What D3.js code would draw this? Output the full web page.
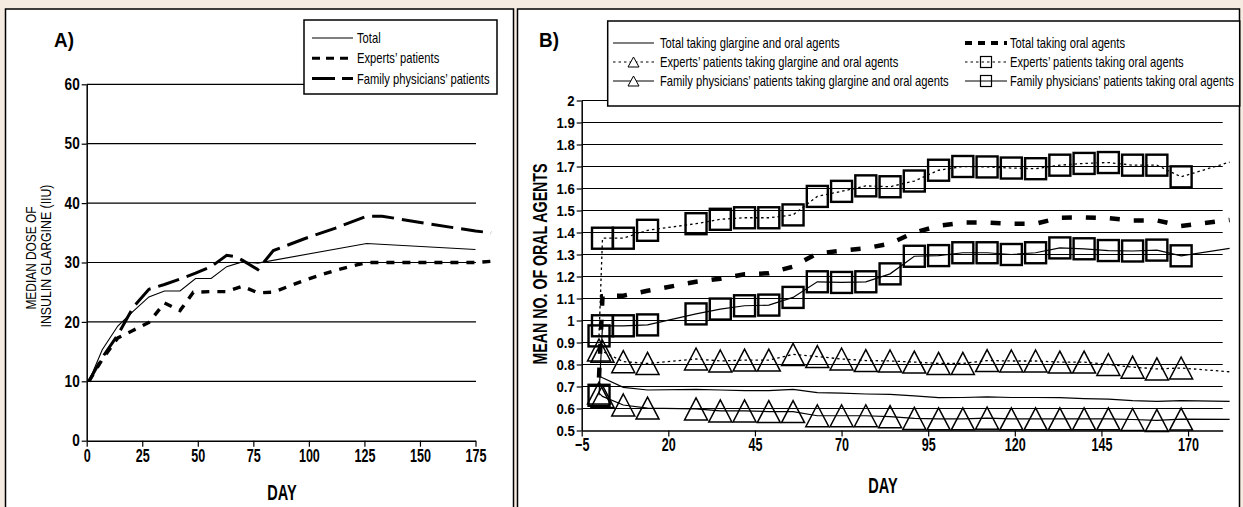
<!DOCTYPE html>
<html><head><meta charset="utf-8">
<script src="https://cdn.jsdelivr.net/npm/d3@7"></script>
<style>
html,body{margin:0;padding:0;background:#f6ebe1;}
svg{display:block;}
text{font-family:"Liberation Sans",Arial,sans-serif;fill:#000;}
</style></head><body>
<svg id="chart" width="1243" height="507"></svg>
<script>
// ---------- Panel A data (median dose of insulin glargine, IU) ----------
const xTicksA = [0,25,50,75,100,125,150,175];
const yTicksA = [0,10,20,30,40,50,60];
const daysTotalA   = [1,7,14,21,28,35,42,49,56,63,70,77,126,175];
const totalA       = [10,15.3,19.3,21.8,24.2,25.2,25.2,27.3,27.3,29.3,30.1,29.9,33.2,32.2];
const daysExpertsA = [1,7,14,21,28,35,42,48,56,63,70,77,84,98,112,126,175,182];
const expertsA     = [10,13.7,17.3,18.6,19.9,23.2,21.9,25,25.1,25.1,26,24.9,25,27,28.7,30,30,30.2];
const daysFamilyA  = [1,7,14,21,28,35,42,49,56,63,67,70,77,84,98,112,126,133,154,175,182];
const familyA      = [10,14,17.8,22.5,25.5,26.3,27.2,28.2,29.3,31.2,31,30.4,28.8,32,34,35.8,37.8,37.8,36.5,35.3,35];
const legendA = ["Total","Experts\u2019 patients","Family physicians\u2019 patients"];

// ---------- Panel B data (mean no. of oral agents) ----------
const xTicksB = [-5,20,45,70,95,120,145,170];
const yTicksB = [0.5,0.6,0.7,0.8,0.9,1,1.1,1.2,1.3,1.4,1.5,1.6,1.7,1.8,1.9,2];
const daysB = [0,1,7,14,28,35,42,49,56,63,70,77,84,91,98,105,112,119,126,133,140,147,154,161,168,182];
const totalGlargB   = [0.748,0.74,0.696,0.684,0.687,0.684,0.681,0.681,0.687,0.672,0.67,0.666,0.664,0.657,0.649,0.65,0.653,0.65,0.65,0.649,0.645,0.643,0.636,0.632,0.636,0.632];
const expertsGlargB = [0.866,0.86,0.813,0.805,0.825,0.816,0.82,0.82,0.846,0.836,0.825,0.818,0.816,0.811,0.805,0.805,0.818,0.816,0.816,0.811,0.811,0.80,0.788,0.78,0.784,0.767];
const familyGlargB  = [0.67,0.655,0.616,0.602,0.598,0.589,0.589,0.586,0.586,0.567,0.567,0.567,0.563,0.555,0.553,0.553,0.556,0.553,0.553,0.553,0.553,0.553,0.55,0.546,0.552,0.551];
const totalOralB    = [0.74,1.11,1.113,1.135,1.176,1.19,1.21,1.215,1.245,1.305,1.317,1.328,1.35,1.40,1.43,1.445,1.445,1.44,1.44,1.467,1.469,1.465,1.455,1.455,1.43,1.457];
const expertsOralB  = [0.93,1.374,1.374,1.41,1.44,1.46,1.467,1.467,1.48,1.564,1.587,1.612,1.608,1.634,1.683,1.70,1.698,1.693,1.69,1.706,1.714,1.718,1.706,1.706,1.653,1.72];
const familyOralB   = [0.66,0.976,0.976,0.98,1.03,1.052,1.067,1.07,1.105,1.176,1.173,1.176,1.212,1.292,1.295,1.308,1.308,1.30,1.308,1.33,1.326,1.318,1.316,1.32,1.294,1.328];
const legendB = ["Total taking glargine and oral agents","Experts\u2019 patients taking glargine and oral agents","Family physicians\u2019 patients taking glargine and oral agents","Total taking oral agents","Experts\u2019 patients taking oral agents","Family physicians\u2019 patients taking oral agents"];

const svg = d3.select("#chart");

// condensed text helper (horizontal squeeze to mimic a condensed face)
function txt(x,y,str,o){
  const sx=o.sx||1, rot=o.rot||0;
  return svg.append("text")
    .attr("transform",`translate(${x},${y})${rot?` rotate(${rot})`:""} scale(${sx},1)`)
    .attr("text-anchor",o.anchor||"start")
    .attr("font-size",o.size).attr("font-weight",o.bold?"bold":(o.weight||"normal"))
    .text(str);
}
function styleAxis(g,size,sx){
  g.selectAll("text").attr("font-family",'"Liberation Sans",Arial,sans-serif').attr("font-weight","bold")
    .attr("font-size",size).attr("fill","#000")
    .attr("x",function(){return (+d3.select(this).attr("x")||0)/sx;})
    .attr("transform",`scale(${sx},1)`);
  g.selectAll("line").attr("stroke","#000").attr("stroke-width",1.2);
  g.select(".domain").attr("stroke","#000").attr("stroke-width",1.5);
}
const tri = (w,h)=>`M0,${-h/2}L${w/2},${h/2}L${-w/2},${h/2}Z`;

// panels
svg.append("rect").attr("x",5.5).attr("y",9).attr("width",508).attr("height",520)
  .attr("fill","#fff").attr("stroke","#000").attr("stroke-width",1.5);
svg.append("rect").attr("x",517.5).attr("y",9).attr("width",722).attr("height",520)
  .attr("fill","#fff").attr("stroke","#000").attr("stroke-width",1.5);

// ================= Panel A =================
const xA = d3.scaleLinear().domain([0,175]).range([86.7,475.5]);
const yA = d3.scaleLinear().domain([0,60]).range([440.7,84.3]);
const gA = svg.append("g");
gA.selectAll("line.grid").data(yTicksA.filter(v=>v>0)).join("line")
  .attr("x1",xA(0)).attr("x2",xA(175)+0.5).attr("y1",d=>yA(d)).attr("y2",d=>yA(d))
  .attr("stroke","#000").attr("stroke-width",1.2);
const axYA = gA.append("g").attr("transform",`translate(${xA(0)},0)`)
  .call(d3.axisLeft(yA).tickValues(yTicksA).tickSize(5).tickPadding(2).tickSizeOuter(0));
styleAxis(axYA,16,0.85);
const axXA = gA.append("g").attr("transform",`translate(0,${yA(0)})`)
  .call(d3.axisBottom(xA).tickValues(xTicksA).tickSize(6).tickPadding(2).tickSizeOuter(0));
styleAxis(axXA,18.5,0.68);

const lineA = d3.line().x(d=>xA(d[0])).y(d=>yA(d[1]));
gA.append("path").datum(d3.zip(daysTotalA,totalA)).attr("d",lineA)
  .attr("fill","none").attr("stroke","#000").attr("stroke-width",1.1);
gA.append("path").datum(d3.zip(daysExpertsA,expertsA)).attr("d",lineA)
  .attr("fill","none").attr("stroke","#000").attr("stroke-width",3.4).attr("stroke-dasharray","8,8");
gA.append("path").datum(d3.zip(daysFamilyA,familyA)).attr("d",lineA)
  .attr("fill","none").attr("stroke","#000").attr("stroke-width",3).attr("stroke-dasharray","22,8");

// legend A
svg.append("rect").attr("x",304).attr("y",20).attr("width",193).attr("height",74)
  .attr("fill","#fff").attr("stroke","#000").attr("stroke-width",1.5);
const lgA = [{dash:null,w:1.1},{dash:"8,6",w:3},{dash:"23,7",w:3}];
legendA.forEach((t,i)=>{
  const cy = 38 + i*20.3;
  svg.append("line").attr("x1",312).attr("x2",353).attr("y1",cy).attr("y2",cy)
    .attr("stroke","#000").attr("stroke-width",lgA[i].w).attr("stroke-dasharray",lgA[i].dash);
  txt(357,cy+5,t,{size:14,sx:0.8,weight:500});
});

txt(54,47,"A)",{size:21,bold:true,sx:0.9});
txt(35.5,258,"MEDIAN DOSE OF",{size:14,sx:0.85,rot:-90,anchor:"middle",weight:500});
txt(50.5,256,"INSULIN GLARGINE (IIU)",{size:14,sx:0.88,rot:-90,anchor:"middle",weight:500});
txt(282,500,"DAY",{size:22,bold:true,sx:0.66,anchor:"middle"});

// ================= Panel B =================
const xB = d3.scaleLinear().domain([-5,180]).range([581.7,1222.7]);
const yB = d3.scaleLinear().domain([0.5,2]).range([430.5,100.5]);
const gB = svg.append("g");
gB.selectAll("line.grid").data(yTicksB.filter(v=>v>0.5)).join("line")
  .attr("x1",xB(-5)).attr("x2",xB(180)).attr("y1",d=>yB(d)).attr("y2",d=>yB(d))
  .attr("stroke","#000").attr("stroke-width",1.1);
const axYB = gB.append("g").attr("transform",`translate(${xB(-5)},0)`)
  .call(d3.axisLeft(yB).tickValues(yTicksB).tickFormat(d=>String(+d.toFixed(1))).tickSize(5).tickPadding(2).tickSizeOuter(0));
styleAxis(axYB,15.5,0.85);
const axXB = gB.append("g").attr("transform",`translate(0,${yB(0.5)})`)
  .call(d3.axisBottom(xB).tickValues(xTicksB).tickSize(6).tickPadding(1).tickSizeOuter(0));
styleAxis(axXB,18.5,0.68);

const seriesB = [
  {v:totalGlargB,   dash:null,   w:1.2, mk:null},
  {v:expertsGlargB, dash:"2.5,3",w:1.3, mk:"tri"},
  {v:familyGlargB,  dash:null,   w:1.2, mk:"tri"},
  {v:totalOralB,    dash:"10,14",w:4.5, mk:null},
  {v:expertsOralB,  dash:"2.5,3",w:1.3, mk:"sq"},
  {v:familyOralB,   dash:null,   w:1.2, mk:"sq"}
];
const lineB = d3.line().x(d=>xB(d[0])).y(d=>yB(d[1]));
seriesB.forEach(s=>{
  gB.append("path").datum(d3.zip(daysB,s.v)).attr("d",lineB)
    .attr("fill","none").attr("stroke","#000").attr("stroke-width",s.w).attr("stroke-dasharray",s.dash);
});
seriesB.forEach(s=>{
  if(!s.mk) return;
  const pts = d3.zip(daysB,s.v).filter(d=>d[0]<=168);
  if(s.mk==="tri"){
    gB.selectAll(null).data(pts).join("path")
      .attr("transform",d=>`translate(${xB(d[0])},${yB(d[1])})`).attr("d",tri(23,22))
      .attr("fill","none").attr("stroke","#000").attr("stroke-width",1.5);
  } else {
    gB.selectAll(null).data(pts).join("rect")
      .attr("x",d=>xB(d[0])-10.5).attr("y",d=>yB(d[1])-10.5).attr("width",21).attr("height",21)
      .attr("fill","none").attr("stroke","#000").attr("stroke-width",2.4);
  }
});

// legend B
svg.append("rect").attr("x",607.7).attr("y",21).attr("width",632).attr("height",85)
  .attr("fill","#fff").attr("stroke","#000").attr("stroke-width",1.5);
legendB.forEach((t,i)=>{
  const s = seriesB[i];
  const col = Math.floor(i/3), row = i%3;
  const cy = 43 + row*19;
  const x0 = col ? 965 : 613, x1 = col ? 1007 : 654, tx = col ? 1010 : 660;
  svg.append("line").attr("x1",x0).attr("x2",x1).attr("y1",cy).attr("y2",cy)
    .attr("stroke","#000").attr("stroke-width",s.w===4.5?4:1.2)
    .attr("stroke-dasharray",s.w===4.5?"7,6":s.dash);
  const mx=(x0+x1)/2;
  if(s.mk==="tri") svg.append("path").attr("transform",`translate(${mx},${cy})`).attr("d",tri(11,10))
    .attr("fill","#fff").attr("stroke","#000").attr("stroke-width",1);
  if(s.mk==="sq") svg.append("rect").attr("x",mx-5.5).attr("y",cy-5.5).attr("width",11).attr("height",11)
    .attr("fill","none").attr("stroke","#000").attr("stroke-width",1.2);
  txt(tx,cy+5,t,{size:14,sx:0.8,weight:500});
});

txt(539,47,"B)",{size:21,bold:true,sx:0.9});
txt(546.5,264,"MEAN NO. OF ORAL AGENTS",{size:20,bold:true,sx:0.71,rot:-90,anchor:"middle"});
txt(883,493,"DAY",{size:22,bold:true,sx:0.66,anchor:"middle"});
</script>
</body></html>
